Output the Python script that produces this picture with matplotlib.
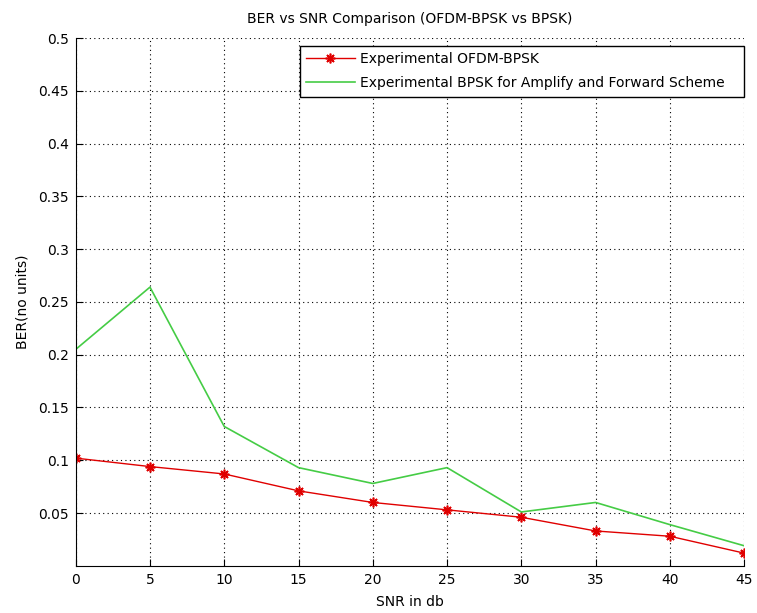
import matplotlib.pyplot as plt
import numpy as np

snr = [0, 5, 10, 15, 20, 25, 30, 35, 40, 45]
ber_ofdm = [0.102, 0.094, 0.087, 0.071, 0.060, 0.053, 0.046, 0.033, 0.028, 0.012]
ber_af = [0.205, 0.264, 0.132, 0.093, 0.078, 0.093, 0.051, 0.060, 0.039, 0.019]
yticks = [0.05, 0.1, 0.15, 0.2, 0.25, 0.3, 0.35, 0.4, 0.45, 0.5]
ytick_labels = ['0.05', '0.1', '0.15', '0.2', '0.25', '0.3', '0.35', '0.4', '0.45', '0.5']

plt.rcParams['font.family'] = ['DejaVu Sans']
fs = 10

fig = plt.figure(figsize=(7.57, 6.13), dpi=100)
ax = fig.add_axes([0.100, 0.077, 0.883, 0.861])

# MATLAB-style asterisk marker (+ and x overlaid)
ax.plot(snr, ber_ofdm, color='#e00000', marker=(8, 2, 0), markersize=7,
        markeredgewidth=1.2, linewidth=1,
        label='Experimental OFDM-BPSK')
ax.plot(snr, ber_af, color='#45cc45', linewidth=1.2,
        label='Experimental BPSK for Amplify and Forward Scheme   ')

ax.set_xlim(0, 45)
ax.set_ylim(0, 0.5)
ax.set_xticks(np.arange(0, 46, 5))
ax.set_yticks(yticks)
ax.set_yticklabels(ytick_labels)
ax.tick_params(direction='in', labelsize=fs, length=5, pad=5)
ax.grid(True, linestyle=(0, (1, 3)), color='black', linewidth=0.8)

for side in ['top', 'right']:
    ax.spines[side].set_visible(False)

ax.set_title('BER vs SNR Comparison (OFDM-BPSK vs BPSK)', fontsize=fs, pad=11)
ax.set_xlabel('SNR in db', fontsize=fs, labelpad=6)
ax.set_ylabel('BER(no units)', fontsize=fs, labelpad=6)

leg = ax.legend(loc='upper right', bbox_to_anchor=(1.0, 0.985), borderaxespad=0,
                fontsize=fs, fancybox=False, framealpha=1, edgecolor='black',
                handlelength=3.5, handletextpad=0.4, borderpad=0.45, labelspacing=0.73)
leg.get_frame().set_linewidth(1.0)

fig.savefig('out.png', dpi=100)
